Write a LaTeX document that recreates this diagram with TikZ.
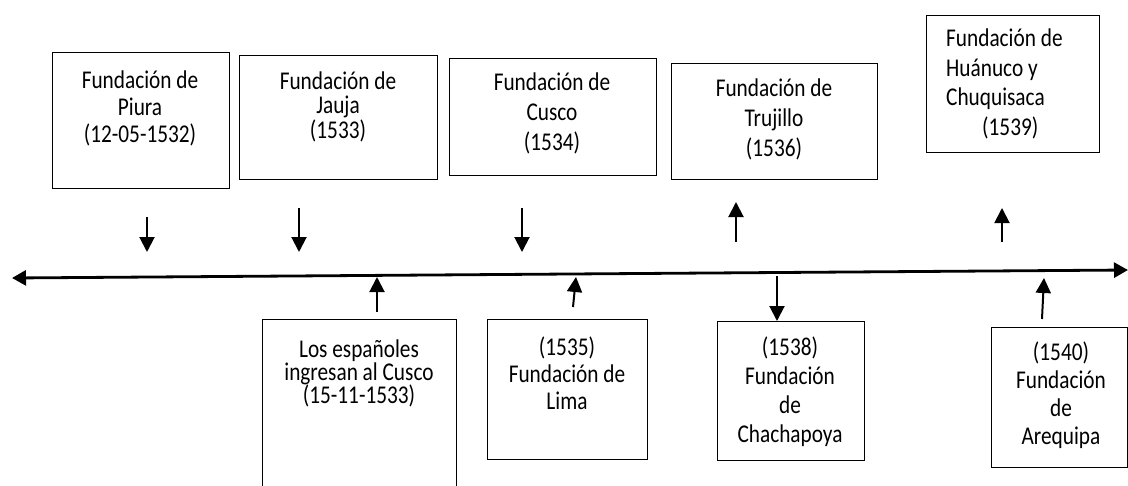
\documentclass[tikz,border=0pt]{standalone}
\usepackage{fontspec}
\usepackage{graphicx}
\setmainfont{Carlito}
\usetikzlibrary{arrows.meta}
\newcommand{\ctxt}[1]{\scalebox{1}[1.2]{\vtop{\lineskiplimit=-100pt\halign{\hfil##\hfil\cr#1\crcr}}}}
\newcommand{\ltxt}[1]{\scalebox{1}[1.2]{\vtop{\lineskiplimit=-100pt\halign{##\hfil\cr#1\crcr}}}}
\begin{document}
\begin{tikzpicture}[x=1pt,y=-1pt,
  box/.style={draw=black, line width=1pt, anchor=north west, inner sep=0pt, minimum width=#1},
  txt/.style={inner sep=0pt, anchor=base, text=black},
  arr/.style={line width=2pt, -{Triangle[length=15pt,width=15pt]}},
  tline/.style={line width=2.8pt, {Triangle[length=14pt,width=15pt]}-{Triangle[length=14pt,width=15pt]}}
]
\useasboundingbox (0,0) rectangle (1128,485);
\clip (0,0) rectangle (1128,485);
\fill[white] (0,0) rectangle (1128,485);

% top boxes
\node[box=177pt, minimum height=136pt] (piura) at (52,52) {};
\node[txt, font=\fontsize{21.3}{22.5}\selectfont] (tpiura) at (140,88) {\ctxt{Fundación de\cr Piura\cr (12-05-1532)}};

\node[box=198pt, minimum height=124pt] (jauja) at (239,55) {};
\node[txt, font=\fontsize{21.3}{20.8}\selectfont] (tjauja) at (338,89) {\ctxt{Fundación de\cr Jauja\cr (1533)}};

\node[box=207pt, minimum height=117pt] (cusco) at (449,58) {};
\node[txt, font=\fontsize{21.3}{25}\selectfont] (tcusco) at (552,90.5) {\ctxt{Fundación de\cr Cusco\cr (1534)}};

\node[box=206pt, minimum height=116pt] (trujillo) at (671,63) {};
\node[txt, font=\fontsize{21.3}{25}\selectfont] (ttrujillo) at (774,96.5) {\ctxt{Fundación de\cr Trujillo\cr (1536)}};

\node[box=173pt, minimum height=137pt] (huanuco) at (926,15) {};
\node[txt, anchor=base west, font=\fontsize{21.3}{24.75}\selectfont] (thuanuco) at (946,46.5) {\ltxt{Fundación de\cr Huánuco y\cr Chuquisaca\cr \hspace*{36pt}(1539)}};

% bottom boxes
\node[box=194pt, minimum height=190pt] (ingreso) at (262,319) {};
\node[txt, font=\fontsize{21.3}{19.2}\selectfont] (tingreso) at (359,357) {\ctxt{Los españoles\cr ingresan al Cusco\cr (15-11-1533)}};

\node[box=160pt, minimum height=140pt] (lima) at (487,319) {};
\node[txt, font=\fontsize{21.3}{22.9}\selectfont] (tlima) at (567,355) {\ctxt{(1535)\cr Fundación de\cr Lima}};

\node[box=147pt, minimum height=139pt] (chacha) at (717,321) {};
\node[txt, font=\fontsize{21.3}{24.2}\selectfont] (tchacha) at (790,355) {\ctxt{(1538)\cr Fundación\cr de\cr Chachapoya}};

\node[box=136pt, minimum height=140pt] (arequipa) at (991,327) {};
\node[txt, font=\fontsize{21.3}{23.6}\selectfont] (tarequipa) at (1061,360) {\ctxt{(1540)\cr Fundación\cr de\cr Arequipa}};

% timeline
\coordinate (tl) at (12,278);
\coordinate (tr) at (1128,270);
\draw[tline] (tl) -- (tr);

% arrow end points
\coordinate (a1s) at (147,217); \coordinate (a1e) at (147,252);
\coordinate (a2s) at (299,208); \coordinate (a2e) at (299,252);
\coordinate (a3s) at (522,208); \coordinate (a3e) at (522,252);
\coordinate (a4s) at (736,242); \coordinate (a4e) at (736,202);
\coordinate (a5s) at (1002,242); \coordinate (a5e) at (1002,208);
\coordinate (b1s) at (377,312); \coordinate (b1e) at (377,277);
\coordinate (b2s) at (573,307); \coordinate (b2e) at (576,277);
\coordinate (b3s) at (777,276); \coordinate (b3e) at (777,321);
\coordinate (b4s) at (1042,319); \coordinate (b4e) at (1044,278);

\draw[arr] (a1s) -- (a1e);
\draw[arr] (a2s) -- (a2e);
\draw[arr] (a3s) -- (a3e);
\draw[arr] (a4s) -- (a4e);
\draw[arr] (a5s) -- (a5e);
\draw[arr] (b1s) -- (b1e);
\draw[arr] (b2s) -- (b2e);
\draw[arr] (b3s) -- (b3e);
\draw[arr] (b4s) -- (b4e);
\end{tikzpicture}
\end{document}
